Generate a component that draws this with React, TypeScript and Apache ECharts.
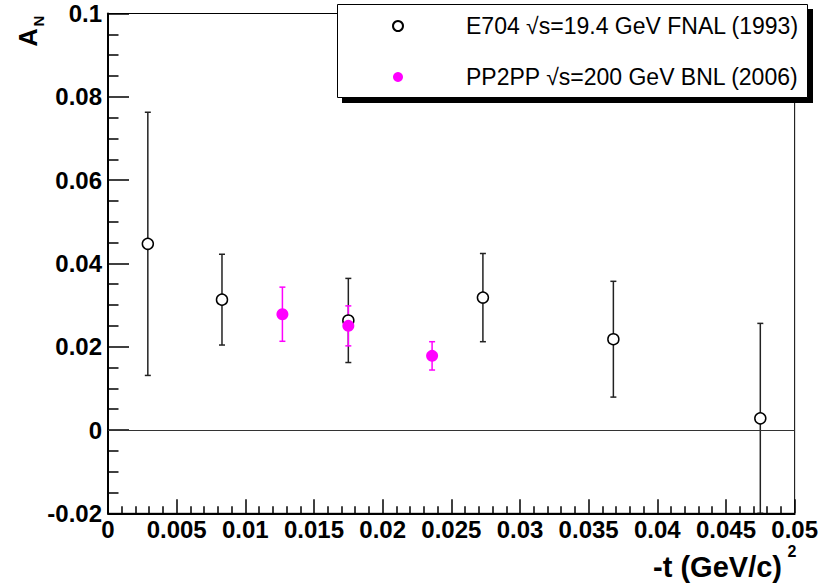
import React, { useEffect, useRef } from "react";
import * as echarts from "echarts";

// E704 data
const e704X = [0.0029, 0.0083, 0.0175, 0.0273, 0.0368, 0.0475];
const e704Y = [0.0447, 0.0313, 0.0263, 0.0318, 0.0218, 0.0028];
const e704Err = [0.0316, 0.0109, 0.0101, 0.0106, 0.0139, 0.0228];

// PP2PP data
const ppX = [0.0127, 0.0175, 0.0236];
const ppY = [0.0278, 0.025, 0.0178];
const ppErr = [0.0065, 0.0048, 0.0034];

const e704Name = "E704 √s=19.4 GeV FNAL (1993)";
const ppName = "PP2PP √s=200 GeV BNL (2006)";

const FONT = "'Liberation Sans', Arial, Helvetica, sans-serif";

function errRender(color: string) {
  return (params: any, api: any) => {
    const x = api.value(0);
    const y = api.value(1);
    const e = api.value(2);
    const top = api.coord([x, y + e]);
    const bot = api.coord([x, y - e]);
    const hw = 3;
    const style = { stroke: color, lineWidth: 1.5 };
    return {
      type: "group",
      children: [
        { type: "line", shape: { x1: top[0], y1: top[1], x2: bot[0], y2: bot[1] }, style },
        { type: "line", shape: { x1: top[0] - hw, y1: top[1], x2: top[0] + hw, y2: top[1] }, style },
        { type: "line", shape: { x1: bot[0] - hw, y1: bot[1], x2: bot[0] + hw, y2: bot[1] }, style },
      ],
    };
  };
}

const fmt = (v: number) => (v === 0 ? "0" : String(Number(v.toFixed(4))));

export default function App() {
  const ref = useRef<HTMLDivElement>(null);
  useEffect(() => {
    if (!ref.current) return;
    const chart = echarts.init(ref.current, undefined, { renderer: "svg" });
    const e704 = e704X.map((x, i) => [x, e704Y[i], e704Err[i]]);
    const pp = ppX.map((x, i) => [x, ppY[i], ppErr[i]]);
    chart.setOption({
      animation: false,
      backgroundColor: "#fff",
      grid: {
        left: 108,
        right: 26,
        top: 13.5,
        bottom: 74.7,
        show: true,
        borderColor: "#000",
        borderWidth: 1,
        backgroundColor: "transparent",
      },
      xAxis: {
        type: "value",
        min: 0,
        max: 0.05,
        interval: 0.005,
        axisLine: { show: true, onZero: false, lineStyle: { color: "#000", width: 2 } },
        axisTick: { show: true, inside: true, length: 14, lineStyle: { color: "#000", width: 1.5 } },
        minorTick: { show: true, splitNumber: 5, length: 7, lineStyle: { color: "#000", width: 1.5 } },
        splitLine: { show: false },
        axisLabel: {
          color: "#000",
          fontSize: 24,
          fontWeight: "bold",
          fontFamily: FONT,
          margin: 4,
          formatter: fmt,
        },
      },
      yAxis: {
        type: "value",
        min: -0.02,
        max: 0.1,
        interval: 0.02,
        axisLine: { show: true, onZero: false, lineStyle: { color: "#000", width: 2 } },
        axisTick: { show: true, inside: true, length: 21, lineStyle: { color: "#000", width: 1.5 } },
        minorTick: { show: true, splitNumber: 4, length: 10.5, lineStyle: { color: "#000", width: 1.5 } },
        splitLine: { show: false },
        axisLabel: {
          color: "#000",
          fontSize: 24,
          fontWeight: "bold",
          fontFamily: FONT,
          margin: 6,
          formatter: fmt,
        },
      },
      legend: {
        orient: "vertical",
        left: 392,
        top: 14.5,
        itemWidth: 10,
        itemHeight: 10,
        itemGap: 28,
        padding: 0,
        selectedMode: false,
        z: 5,
        data: [
          { name: e704Name, icon: "circle" },
          { name: ppName, icon: "circle" },
        ],
        textStyle: {
          color: "#000",
          fontSize: 23,
          fontFamily: FONT,
          padding: [0, 0, 0, 58],
        },
      },
      graphic: [
        { type: "rect", z: 3, shape: { x: 342, y: 9, width: 471, height: 94 }, style: { fill: "#000" } },
        {
          type: "rect",
          z: 3,
          shape: { x: 337.5, y: 4.5, width: 470, height: 93 },
          style: { fill: "#fff", stroke: "#000", lineWidth: 1 },
        },
        {
          type: "text",
          z: 3,
          x: 782,
          y: 567,
          style: {
            text: "-t (GeV/c)",
            fill: "#000",
            font: `bold 29px ${FONT}`,
            align: "right",
            verticalAlign: "middle",
          },
        },
        {
          type: "text",
          z: 3,
          x: 792,
          y: 551,
          style: { text: "2", fill: "#000", font: `bold 16px ${FONT}`, align: "center", verticalAlign: "middle" },
        },
        {
          type: "text",
          z: 3,
          x: 27.5,
          y: 31,
          rotation: Math.PI / 2,
          style: {
            text: "{a|A}{n|N}",
            fill: "#000",
            align: "center",
            verticalAlign: "middle",
            rich: {
              a: {
                fontSize: 25,
                fontWeight: "bold",
                fontFamily: FONT,
                lineHeight: 25,
                verticalAlign: "top",
                fill: "#000",
              },
              n: {
                fontSize: 15,
                fontWeight: "bold",
                fontFamily: FONT,
                lineHeight: 15,
                verticalAlign: "top",
                padding: [16, 0, 0, 2],
                fill: "#000",
              },
            },
          },
        },
      ],
      series: [
        {
          type: "custom",
          name: "E704 errors",
          data: e704,
          clip: true,
          renderItem: errRender("#222"),
          encode: { x: 0, y: 1 },
          silent: true,
          z: 2,
        },
        {
          type: "scatter",
          name: e704Name,
          data: e704.map((d) => [d[0], d[1]]),
          symbol: "circle",
          symbolSize: 11,
          itemStyle: { color: "#fff", borderColor: "#000", borderWidth: 1.5, opacity: 1 },
          z: 2,
          markLine: {
            silent: true,
            symbol: "none",
            label: { show: false },
            lineStyle: { color: "#333", width: 1, type: "solid" },
            data: [{ yAxis: 0 }],
          },
        },
        {
          type: "custom",
          name: "PP2PP errors",
          data: pp,
          clip: true,
          renderItem: errRender("#ff00ff"),
          encode: { x: 0, y: 1 },
          silent: true,
          z: 2,
        },
        {
          type: "scatter",
          name: ppName,
          data: pp.map((d) => [d[0], d[1]]),
          symbol: "circle",
          symbolSize: 12,
          itemStyle: { color: "#ff00ff", opacity: 1 },
          z: 2,
        },
      ],
    });
    return () => chart.dispose();
  }, []);
  return <div ref={ref} style={{ width: 821, height: 588, position: "absolute", left: 0, top: 0 }} />;
}
